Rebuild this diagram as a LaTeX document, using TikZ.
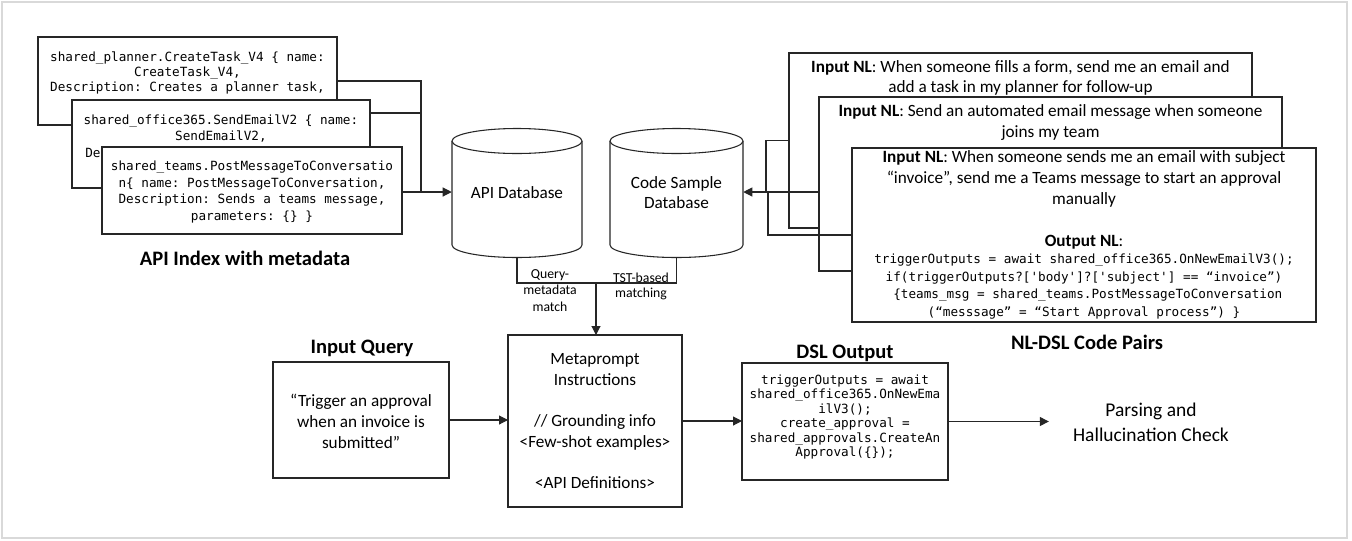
\documentclass[tikz,border=0pt]{standalone}
\usepackage{fontspec}
\setmainfont{Carlito}
\setmonofont{DejaVu Sans Mono}
\usetikzlibrary{arrows.meta}
\begin{document}
\begin{tikzpicture}[x=0.75pt,y=-0.75pt,
  box/.style={draw=black!85, line width=0.8pt, fill=white, inner sep=0pt, outer sep=0pt, anchor=north west},
  code/.style={font=\fontsize{9.5}{11.6}\ttfamily, align=center, inner sep=0pt},
  body/.style={font=\fontsize{12.9}{15.5}\selectfont, align=center, inner sep=0pt},
  ttl/.style={font=\fontsize{15.4}{18}\selectfont\bfseries, inner sep=0pt},
  lbl/.style={font=\fontsize{10.3}{12.2}\selectfont, align=center, inner sep=0pt},
  line/.style={draw=black!85, line width=0.8pt},
  arr/.style={line, -{Triangle[length=6.75pt,width=6.75pt]}},
  dbline/.style={draw=black!85, line width=0.8pt, fill=white},
]
\useasboundingbox (0,0) rectangle (1352,540);
\draw[black!15, line width=1.2pt] (2,2) rectangle (1347,538);

% ---- API index stack (left)
\node[box, minimum width=224.25pt, minimum height=66pt] (b1) at (38,37) {};
\node[code] (t1) at (187.5,73) {shared\_planner.CreateTask\_V4 \{ name:\\CreateTask\_V4,\\Description: Creates a planner task,};
\node[box, minimum width=223.5pt, minimum height=66pt] (b2) at (72,100) {};
\node[code, font=\fontsize{9.5}{12}\ttfamily] (t2) at (221,129) {shared\_office365.SendEmailV2 \{ name:\\SendEmailV2,};
\node[code, anchor=west] (t2b) at (85,153) {De};
\node[box, minimum width=225pt, minimum height=65.25pt] (b3) at (102,147) {};
\node[code, font=\fontsize{9.5}{12.4}\ttfamily] (t3) at (252,192) {shared\_teams.PostMessageToConversatio\\n\{ name: PostMessageToConversation,\\Description: Sends a teams message,\\parameters: \{\} \}};
\node[ttl] (apititle) at (245,258) {API Index with metadata};

% ---- databases
\draw[dbline] (452,141) -- (452,245) arc[start angle=180, end angle=0, x radius=65, y radius=12.5] -- (582,141);
\draw[dbline] (517,141) ellipse [x radius=65, y radius=12.5];
\node[body, minimum width=97.5pt, minimum height=96.75pt] (apidb) at (517,192.5) {API Database};

\draw[dbline] (610,141) -- (610,245) arc[start angle=180, end angle=0, x radius=66.5, y radius=12.5] -- (743,141);
\draw[dbline] (676.5,141) ellipse [x radius=66.5, y radius=12.5];
\node[body, font=\fontsize{12.9}{15}\selectfont, minimum width=99.75pt, minimum height=96.75pt] (codedb) at (676.5,192.5) {Code Sample\\Database};

% ---- NL-DSL stack (right)
\node[box, minimum width=347.25pt, minimum height=131.25pt] (r1) at (789,53) {};
\node[body] (r1t) at (1020.5,78) {\textbf{Input NL}: When someone fills a form, send me an email and\\add a task in my planner for follow-up};
\node[box, minimum width=347.25pt, minimum height=130.5pt] (r2) at (819,97) {};
\node[body] (r2t) at (1050.5,122.5) {\textbf{Input NL}: Send an automated email message when someone\\joins my team};
\node[box, minimum width=348pt, minimum height=130.5pt] (r3) at (852,148) {};
\node[body] (r3t) at (1084,179) {\textbf{Input NL}: When someone sends me an email with subject\\“invoice”, send me a Teams message to start an approval\\manually};
\node[body] (r3o) at (1084,242) {\textbf{Output NL}:};
\node[code, font=\fontsize{9.5}{13.1}\ttfamily] (r3c) at (1084,286.5) {triggerOutputs = await shared\_office365.OnNewEmailV3();\\if(triggerOutputs?['body']?['subject'] == “invoice”)\\\ \{teams\_msg = shared\_teams.PostMessageToConversation\\(“messsage” = “Start Approval process”) \}};
\node[ttl] (nltitle) at (1087,342) {NL-DSL Code Pairs};

% ---- bottom row
\node[ttl] (iqtitle) at (362,348) {Input Query};
\node[box, minimum width=132pt, minimum height=87pt] (iq) at (273,362) {};
\node[body, font=\fontsize{12.9}{15.75}\selectfont] (iqt) at (361,421) {“Trigger an approval\\when an invoice is\\submitted”};

\node[box, minimum width=130.5pt, minimum height=129pt] (meta) at (508,335) {};
\node[body, font=\fontsize{12.9}{15.5}\selectfont] (metat) at (595,421) {Metaprompt\\Instructions\\\mbox{}\\// Grounding info\\<Few-shot examples>\\\mbox{}\\<API Definitions>};

\node[ttl] (dsltitle) at (845,353) {DSL Output};
\node[box, minimum width=154.5pt, minimum height=87.75pt] (dsl) at (742,363) {};
\node[code, font=\fontsize{9.5}{10.8}\ttfamily] (dslt) at (845,417) {triggerOutputs = await\\shared\_office365.OnNewEma\\ilV3();\\create\_approval =\\shared\_approvals.CreateAn\\Approval(\{\});};

\node[body, font=\fontsize{14.6}{18.75}\selectfont, inner xsep=18pt] (pars) at (1151,422.5) {Parsing and\\Hallucination Check};

% ---- connectors, left
\coordinate (jl) at (421,192);
\draw[line] (b1.east) -| (jl);
\draw[line] (b2.east |- 0,113) -- (jl |- 0,113);
\draw[arr] (b3.east |- jl) -- (apidb.west |- jl);

% ---- connectors, right
\coordinate (jr1) at (766,192);
\coordinate (jr2) at (768,192);
\draw[line] (r1.west) -| (jr1);
\draw[arr] (r2.west |- jr1) -- (codedb.east |- jr1);
\draw[line] (r3.west) -| (jr2);

% ---- databases to metaprompt
\coordinate (jb) at (596,283);
\draw[line] (apidb.south) |- (jb) -| (codedb.south);
\draw[arr] (jb) -- (jb |- meta.north);
\node[lbl] (q) at (550,290.5) {Query-\\metadata\\match};
\node[lbl, font=\fontsize{10.3}{11.3}\selectfont] (tst) at (641,286.5) {TST-based\\matching};

% ---- bottom flow
\draw[arr] (iq.east) -- (meta.west |- iq.east);
\draw[arr] (meta.east) -- (dsl.west |- meta.east);
\draw[arr] (dsl.east) -- (pars.west |- dsl.east);
\end{tikzpicture}
\end{document}
